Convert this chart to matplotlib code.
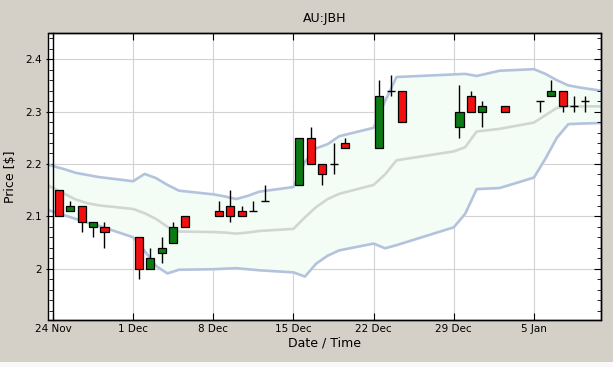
import datetime as dt
import numpy as np
import matplotlib
matplotlib.use('Agg')
import matplotlib.pyplot as plt
import matplotlib.dates as mdates
from matplotlib.ticker import MultipleLocator, FixedLocator
from matplotlib.patches import Rectangle

# daily candles (trading days)
days = ['2008-11-24', '2008-11-25', '2008-11-26', '2008-11-27', '2008-11-28',
        '2008-12-01', '2008-12-02', '2008-12-03', '2008-12-04', '2008-12-05',
        '2008-12-08', '2008-12-09', '2008-12-10', '2008-12-11', '2008-12-12',
        '2008-12-15', '2008-12-16', '2008-12-17', '2008-12-18', '2008-12-19',
        '2008-12-22', '2008-12-23', '2008-12-24',
        '2008-12-29', '2008-12-30', '2008-12-31', '2009-01-02',
        '2009-01-05', '2009-01-06', '2009-01-07', '2009-01-08', '2009-01-09']
opens = [2.15, 2.11, 2.12, 2.08, 2.08,
         2.06, 2.00, 2.03, 2.05, 2.10,
         2.11, 2.12, 2.11, 2.11, 2.13,
         2.16, 2.25, 2.20, 2.20, 2.24,
         2.23, 2.34, 2.34,
         2.27, 2.33, 2.30, 2.31,
         2.32, 2.33, 2.34, 2.31, 2.32]
highs = [2.15, 2.13, 2.12, 2.09, 2.09,
         2.06, 2.04, 2.06, 2.09, 2.10,
         2.13, 2.15, 2.12, 2.13, 2.16,
         2.25, 2.27, 2.20, 2.24, 2.25,
         2.36, 2.37, 2.34,
         2.35, 2.34, 2.32, 2.31,
         2.32, 2.36, 2.34, 2.33, 2.33]
lows = [2.10, 2.11, 2.07, 2.06, 2.04,
        1.98, 2.00, 2.01, 2.05, 2.08,
        2.10, 2.09, 2.10, 2.11, 2.13,
        2.16, 2.20, 2.16, 2.18, 2.23,
        2.23, 2.33, 2.28,
        2.25, 2.30, 2.27, 2.30,
        2.30, 2.33, 2.30, 2.30, 2.30]
closes = [2.10, 2.12, 2.09, 2.09, 2.07,
          2.00, 2.02, 2.04, 2.08, 2.08,
          2.10, 2.10, 2.10, 2.11, 2.13,
          2.25, 2.20, 2.18, 2.20, 2.23,
          2.33, 2.34, 2.28,
          2.30, 2.30, 2.31, 2.30,
          2.32, 2.34, 2.31, 2.31, 2.32]

# bollinger bands
band_days = ['2008-11-21'] + days + ['2009-01-12']
band_upper = [2.214, 2.196, 2.190, 2.183, 2.179, 2.175,
              2.167, 2.181, 2.173, 2.160, 2.149,
              2.142, 2.138, 2.133, 2.139, 2.147,
              2.156, 2.204, 2.230, 2.238, 2.253,
              2.269, 2.320, 2.366,
              2.371, 2.372, 2.368, 2.378,
              2.381, 2.372, 2.360, 2.350, 2.346, 2.336]
band_mid = [2.187, 2.154, 2.143, 2.132, 2.125, 2.121,
            2.114, 2.106, 2.095, 2.080, 2.071,
            2.070, 2.069, 2.067, 2.069, 2.072,
            2.076, 2.098, 2.118, 2.133, 2.143,
            2.160, 2.180, 2.207,
            2.224, 2.232, 2.262, 2.267,
            2.279, 2.293, 2.307, 2.310, 2.310, 2.310]
band_lower = [2.130, 2.109, 2.102, 2.095, 2.088, 2.082,
              2.060, 2.034, 2.005, 1.991, 1.998,
              1.999, 2.000, 2.001, 1.999, 1.997,
              1.993, 1.985, 2.010, 2.025, 2.035,
              2.048, 2.039, 2.045,
              2.079, 2.105, 2.152, 2.154,
              2.174, 2.210, 2.250, 2.276, 2.277, 2.279]

week_ticks = ['2008-11-24', '2008-12-01', '2008-12-08', '2008-12-15',
              '2008-12-22', '2008-12-29', '2009-01-05']
week_labels = ['24 Nov', '1 Dec', '8 Dec', '15 Dec', '22 Dec', '29 Dec', '5 Jan']

def to_num(lst):
    return mdates.date2num([dt.datetime.strptime(s, '%Y-%m-%d') for s in lst])

bg = '#d4d0c8'
fig = plt.figure(figsize=(6.13, 3.67), dpi=100, facecolor=bg)
ax = fig.add_axes([0.0778, 0.128, 0.9025, 0.782])
ax.set_facecolor('white')

bx = to_num(band_days)
ax.fill_between(bx, band_lower, band_upper, color='#f3fcf5', zorder=1)
ax.plot(bx, band_upper, color='#b4c3dd', lw=1.9, zorder=2)
ax.plot(bx, band_lower, color='#b4c3dd', lw=1.9, zorder=2)
ax.plot(bx, band_mid, color='#d0d6d4', lw=1.9, zorder=2)

x = to_num(days) + 0.5
o = np.array(opens); c = np.array(closes)
w = 0.7
ax.vlines(x, lows, highs, color='black', lw=1, zorder=3)
up = c > o
dn = c < o
eq = c == o
ax.bar(x[up], (c - o)[up], bottom=o[up], width=w, color='#0b7a12',
       edgecolor='black', lw=0.9, zorder=4)
ax.bar(x[dn], (o - c)[dn], bottom=c[dn], width=w, color='#f01010',
       edgecolor='black', lw=0.9, zorder=4)
ax.hlines(c[eq], x[eq] - w / 2, x[eq] + w / 2, color='black', lw=1, zorder=4)

x0 = to_num(['2008-11-24'])[0]
ax.set_xlim(x0 - 0.46, x0 + 47.85)
ax.set_ylim(1.902, 2.45)

ax.xaxis.set_major_locator(FixedLocator(to_num(week_ticks)))
ax.set_xticklabels(week_labels)
ax.yaxis.set_major_locator(MultipleLocator(0.1))
ax.yaxis.set_minor_locator(MultipleLocator(0.02))
ax.yaxis.set_major_formatter(matplotlib.ticker.FuncFormatter(lambda v, p: '%g' % round(v, 2)))

ax.grid(True, which='major', color='#d2d2d2', lw=0.8, zorder=0)
ax.set_axisbelow(True)

ax.spines['left'].set_position(('data', x0))
for s in ax.spines.values():
    s.set_linewidth(1)
ax.add_patch(Rectangle((0, 0), 1, 1, transform=ax.transAxes, fill=False,
                       edgecolor='black', lw=1, zorder=6, clip_on=False))

ax.tick_params(axis='x', which='both', direction='in', length=5, top=True,
               labelsize=7.5, pad=3)
ax.tick_params(axis='y', which='major', direction='out', length=5, labelsize=7.5, pad=3)
ax.tick_params(axis='y', which='minor', direction='out', length=3)

ax2 = ax.twinx()
ax2.set_ylim(ax.get_ylim())
ax2.yaxis.set_major_locator(MultipleLocator(0.1))
ax2.yaxis.set_minor_locator(MultipleLocator(0.02))
ax2.tick_params(axis='y', which='major', direction='in', length=5, labelright=False)
ax2.tick_params(axis='y', which='minor', direction='in', length=3)
for s in ax2.spines.values():
    s.set_visible(False)

ax.set_title('AU:JBH', fontsize=9, pad=8)
ax.set_xlabel('Date / Time', fontsize=9, labelpad=2)
ax.set_ylabel('Price [$]', fontsize=9, labelpad=6)

fig.patches.append(Rectangle((0, 0), 1, 5 / 367, transform=fig.transFigure,
                             facecolor='#f8f8f8', edgecolor='none'))

fig.savefig('out.png', dpi=100, facecolor=bg)
